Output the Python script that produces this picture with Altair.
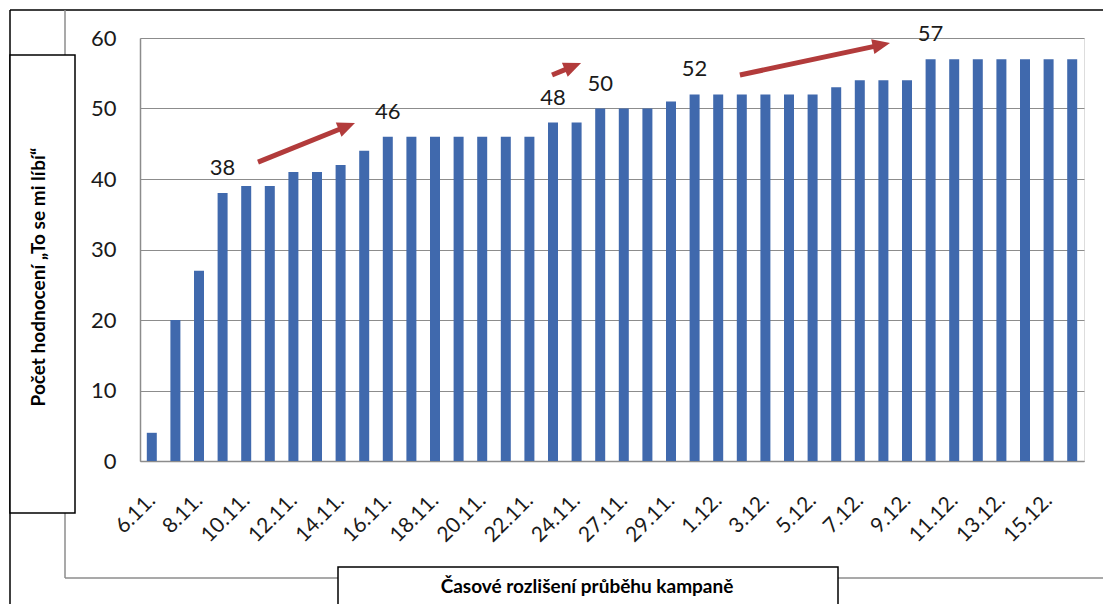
import math
import altair as alt
import pandas as pd

# ---- data -------------------------------------------------------------
dates = ["6.11.", "7.11.", "8.11.", "9.11.", "10.11.", "11.11.", "12.11.", "13.11.",
         "14.11.", "15.11.", "16.11.", "17.11.", "18.11.", "19.11.", "20.11.", "21.11.",
         "22.11.", "23.11.", "24.11.", "26.11.", "27.11.", "28.11.", "29.11.", "30.11.",
         "1.12.", "2.12.", "3.12.", "4.12.", "5.12.", "6.12.", "7.12.", "8.12.",
         "9.12.", "10.12.", "11.12.", "12.12.", "13.12.", "14.12.", "15.12.", "16.12."]
values = [4, 20, 27, 38, 39, 39, 41, 41, 42, 44,
          46, 46, 46, 46, 46, 46, 46, 48, 48, 50,
          50, 50, 51, 52, 52, 52, 52, 52, 52, 53,
          54, 54, 54, 57, 57, 57, 57, 57, 57, 57]
label_idx = [3, 10, 17, 19, 23, 33]

# arrows (data units: x = bar index, y = value)
arrow_x0 = [4.50, 16.96, 24.92]
arrow_y0 = [42.4, 54.75, 54.75]
arrow_x1 = [8.61, 18.19, 31.28]
arrow_y1 = [47.94, 56.45, 59.29]

y_title = "Počet hodnocení „To se mi líbí“"
x_title = "Časové rozlišení průběhu kampaně"

# ---- layout constants -------------------------------------------------
W, H = 944, 423
PAD = {"left": 132, "top": 30, "right": 19, "bottom": 143}
XDOM = [-0.5, 39.5]
YDOM = [0, 60]
px_x = W / (XDOM[1] - XDOM[0])
px_y = H / (YDOM[1] - YDOM[0])

BAR = "#4069ad"
ARROW = "#b23b3b"
GRID = "#8c8c8c"
FONT = "Lato"

df = pd.DataFrame({"i": list(range(len(values))), "date": dates, "value": values})
lab = df.iloc[label_idx]

# arrows
rows = []
for x0, y0, x1, y1 in zip(arrow_x0, arrow_y0, arrow_x1, arrow_y1):
    dxp = (x1 - x0) * px_x
    dyp = (y1 - y0) * px_y
    L = math.hypot(dxp, dyp)
    k = (L - 10) / L
    theta = math.degrees(math.atan2(dyp, dxp))
    rows.append({"x0": x0, "y0": y0, "xe": x0 + (x1 - x0) * k, "ye": y0 + (y1 - y0) * k,
                 "x1": x1, "y1": y1, "ang": (360 - theta) % 360})
arr = pd.DataFrame(rows)

xs = alt.Scale(domain=XDOM, nice=False, zero=False, padding=0)
ys = alt.Scale(domain=YDOM, nice=False, padding=0)

date_js = "[" + ",".join("'%s'" % d for d in dates) + "]"

bars = alt.Chart(df).mark_bar(size=10, color=BAR).encode(
    x=alt.X("i:Q", scale=xs, axis=alt.Axis(
        values=list(range(0, len(dates), 2)), labelExpr=date_js + "[datum.value]",
        title=None, labelAngle=-45, labelAlign="right", labelBaseline="middle",
        labelPadding=36, ticks=False, tickSize=0, grid=False, domainColor=GRID,
        domainWidth=1.5, labelFont=FONT, labelFontSize=21, labelColor="#1a1a1a",
        labelOverlap=False, labelBound=False, labelFlush=False)),
    y=alt.Y("value:Q", scale=ys, axis=alt.Axis(
        values=list(range(0, 61, 10)), title=None, ticks=False, tickSize=0,
        labelPadding=24, grid=True, gridColor=GRID, gridWidth=1.2,
        domainColor=GRID, domainWidth=1.5, labelFont=FONT, labelFontSize=22,
        labelColor="#1a1a1a")),
)

labels = alt.Chart(lab).mark_text(dy=-25, font=FONT, fontSize=22, color="#1a1a1a",
                                  baseline="middle").encode(
    x=alt.X("i:Q", scale=xs), y=alt.Y("value:Q", scale=ys), text="value:Q")

shaft = alt.Chart(arr).mark_rule(color=ARROW, strokeWidth=5).encode(
    x=alt.X("x0:Q", scale=xs), y=alt.Y("y0:Q", scale=ys), x2="xe:Q", y2="ye:Q")
head = alt.Chart(arr).mark_point(
    shape="M0,0 L-2.2,-0.95 L-2.2,0.95 Z", filled=True, opacity=1, color=ARROW,
    size=256, strokeWidth=0).encode(
    x=alt.X("x1:Q", scale=xs), y=alt.Y("y1:Q", scale=ys), angle=alt.Angle("ang:Q", scale=None))

# ---- frame decoration (pixel coords relative to plot origin) ------------
seg = pd.DataFrame({
    "x": [-130, -130, -75, -75],
    "x2": [963, -130, -75, 963],
    "y": [-28, -28, -28, 540],
    "y2": [-28, 580, 540, 540],
    "c": ["#000000", "#000000", "#8c8c8c", "#8c8c8c"],
})
frame = alt.Chart(seg).mark_rule(strokeWidth=1.5).encode(
    x=alt.X("x:Q", scale=None), x2="x2:Q", y=alt.Y("y:Q", scale=None), y2="y2:Q",
    color=alt.Color("c:N", scale=None))

boxes_df = pd.DataFrame({"x": [-130, 198], "x2": [-65, 698], "y": [17, 529], "y2": [475, 580]})
boxes = alt.Chart(boxes_df).mark_rect(fill="white", stroke="black", strokeWidth=1.5).encode(
    x=alt.X("x:Q", scale=None), x2="x2:Q", y=alt.Y("y:Q", scale=None), y2="y2:Q")

ytitle = alt.Chart(pd.DataFrame({"t": [y_title]})).mark_text(
    angle=270, font=FONT, fontSize=19, fontWeight="bold", color="black",
    align="center", baseline="middle").encode(
    x=alt.value(-101), y=alt.value(239), text="t:N")
xtitle = alt.Chart(pd.DataFrame({"t": [x_title]})).mark_text(
    font=FONT, fontSize=19, fontWeight="bold", color="black",
    align="center", baseline="middle").encode(
    x=alt.value(447), y=alt.value(549), text="t:N")

chart = alt.layer(frame, boxes, ytitle, xtitle, bars, labels, shaft, head).properties(
    width=W, height=H, padding=PAD,
    autosize=alt.AutoSizeParams(type="none"),
).configure_view(stroke=None).configure(background="white")

chart.save("out.html", embed_options={"renderer": "svg", "actions": False})
